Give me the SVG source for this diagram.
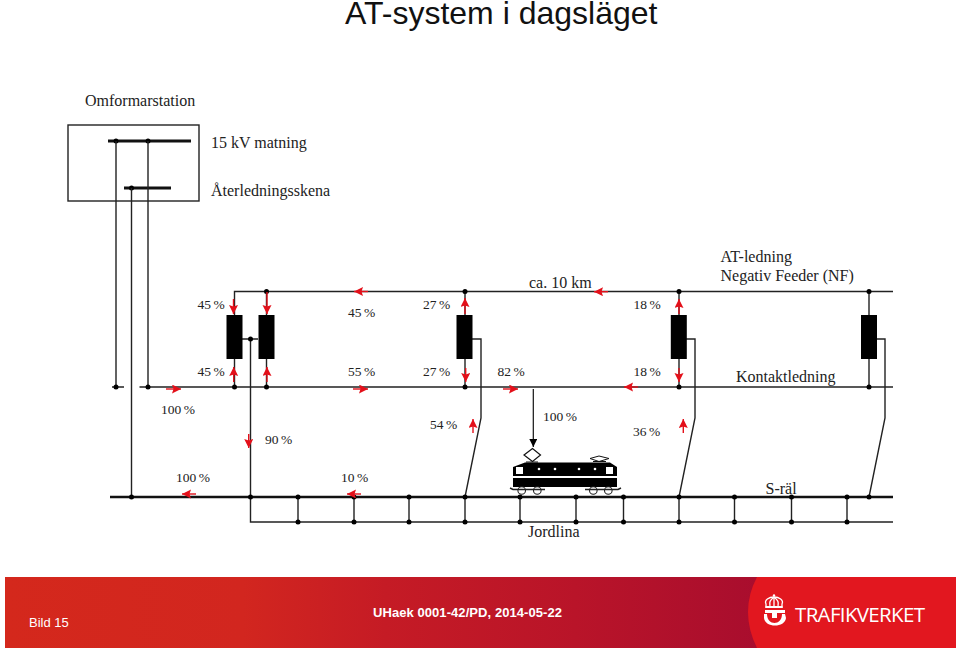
<svg xmlns="http://www.w3.org/2000/svg" width="960" height="650" viewBox="0 0 960 650">
<style>
.s{font-family:"Liberation Serif",serif;font-size:16px;fill:#222}
.p{font-family:"Liberation Serif",serif;font-size:13.5px;word-spacing:-1px;fill:#222}
.w{fill:none;stroke:#222;stroke-width:1.4}
.b{fill:none;stroke:#111;stroke-width:3}
.a{fill:none;stroke:#e3101a;stroke-width:1.4;marker-end:url(#ah)}
.d{fill:#000}
.t{fill:#000}
.f{font-family:"Liberation Sans",sans-serif;fill:#fff}
</style>
<defs>
<marker id="ah" markerUnits="userSpaceOnUse" markerWidth="11" markerHeight="11" refX="9" refY="4.500" orient="auto"><path d="M0 0L9 4.500L0 9L1.500 4.500Z" fill="#e3101a"/></marker>
<marker id="bh" markerUnits="userSpaceOnUse" markerWidth="10" markerHeight="10" refX="8" refY="4" orient="auto"><path d="M0 0L8 4L0 8Z" fill="#000"/></marker>
<linearGradient id="g" x1="0" x2="1" y1="0" y2="0"><stop offset="0" stop-color="#d4281c"/><stop offset=".25" stop-color="#d2261f"/><stop offset=".4" stop-color="#c51b25"/><stop offset=".6" stop-color="#b91429"/><stop offset=".8" stop-color="#a80d2e"/><stop offset="1" stop-color="#a80d2e"/></linearGradient>
</defs>
<rect width="960" height="650" fill="#fff"/>
<text x="345" y="24" font-family="'Liberation Sans',sans-serif" font-size="32" fill="#111">AT-system i dagsläget</text>

<g id="station">
<rect x="68" y="125" width="131" height="76" fill="none" stroke="#222" stroke-width="1.4"/>
<path class="b" d="M108 141H191M124 188H171"/>
<circle class="d" cx="116" cy="141" r="2.5"/><circle class="d" cx="148" cy="141" r="2.5"/><circle class="d" cx="131.500" cy="188" r="2.500"/>
<text class="s" x="85" y="106">Omformarstation</text>
<text class="s" x="211" y="148">15 kV matning</text>
<text class="s" x="211" y="196">Återledningsskena</text>
</g>

<g id="connectors">
<path class="w" d="M116 141V387M131.500 188V497M148 141V387"/>
<path class="w" d="M234.500 315V291.500H893M112 387H124M139.500 387H893"/>
<path class="w" d="M234.500 359V387M266.500 291.500V315M266.500 359V387M242 339H258M250.500 339V522H893"/>
<path class="w" d="M465 291.500V315M465 359V387M472 339H481V418L465 497"/>
<path class="w" d="M679 291.500V315M679 359V387M686 339H695V418L679 497"/>
<path class="w" d="M869 291.500V315M869 359V387M876 339H885V418L869 497"/>
<path class="w" d="M298 497V522M354 497V522M409 497V522M465 497V522M520 497V522M576 497V522M623.500 497V522M679 497V522M734.500 497V522M791.500 497V522M847 497V522"/>
<path fill="none" stroke="#111" stroke-width="2.600" d="M110 497H893"/>
<path fill="none" stroke="#111" stroke-width="1.200" marker-end="url(#bh)" d="M533.300 389V447"/>
<g id="dots">
<circle class="d" cx="266.500" cy="291.500" r="2.500"/><circle class="d" cx="465" cy="291.500" r="2.500"/><circle class="d" cx="679" cy="291.500" r="2.500"/><circle class="d" cx="869" cy="291.500" r="2.500"/>
<circle class="d" cx="116" cy="387" r="2.500"/><circle class="d" cx="148" cy="387" r="2.500"/><circle class="d" cx="234.500" cy="387" r="2.500"/><circle class="d" cx="266.500" cy="387" r="2.500"/><circle class="d" cx="465" cy="387" r="2.500"/><circle class="d" cx="679" cy="387" r="2.500"/><circle class="d" cx="869" cy="387" r="2.500"/>
<circle class="d" cx="250.500" cy="339" r="2.500"/>
<circle class="d" cx="131.500" cy="497" r="2.500"/><circle class="d" cx="250.500" cy="497" r="2.500"/><circle class="d" cx="298" cy="497" r="2.500"/><circle class="d" cx="354" cy="497" r="2.500"/><circle class="d" cx="409" cy="497" r="2.500"/><circle class="d" cx="465" cy="497" r="2.500"/><circle class="d" cx="520" cy="497" r="2.500"/><circle class="d" cx="576" cy="497" r="2.500"/><circle class="d" cx="623.500" cy="497" r="2.500"/><circle class="d" cx="679" cy="497" r="2.500"/><circle class="d" cx="734.500" cy="497" r="2.500"/><circle class="d" cx="791.500" cy="497" r="2.500"/><circle class="d" cx="847" cy="497" r="2.500"/><circle class="d" cx="869" cy="497" r="2.500"/>
<circle class="d" cx="298" cy="522" r="2.500"/><circle class="d" cx="354" cy="522" r="2.500"/><circle class="d" cx="409" cy="522" r="2.500"/><circle class="d" cx="465" cy="522" r="2.500"/><circle class="d" cx="520" cy="522" r="2.500"/><circle class="d" cx="576" cy="522" r="2.500"/><circle class="d" cx="623.500" cy="522" r="2.500"/><circle class="d" cx="679" cy="522" r="2.500"/><circle class="d" cx="734.500" cy="522" r="2.500"/><circle class="d" cx="791.500" cy="522" r="2.500"/><circle class="d" cx="847" cy="522" r="2.500"/>
</g>
</g>

<g id="at1"><rect class="t" x="226.500" y="315" width="16" height="44"/></g>
<g id="at2"><rect class="t" x="258.500" y="315" width="16" height="44"/></g>
<g id="at3"><rect class="t" x="456.500" y="315" width="16" height="44"/></g>
<g id="at4"><rect class="t" x="670.800" y="315" width="16" height="44"/></g>
<g id="at5"><rect class="t" x="861" y="315" width="16" height="44"/></g>

<g id="flows">
<path class="a" d="M233.500 299V314"/><path class="a" d="M267 292V314"/>
<path class="a" d="M233.700 382V367"/><path class="a" d="M267 382V367"/>
<path class="a" d="M166 389H181"/><path class="a" d="M353 389H368"/>
<path class="a" d="M368 291.500H354"/><path class="a" d="M248.700 434V448"/>
<path class="a" d="M196 494H182"/><path class="a" d="M361 494H347"/>
<path class="a" d="M465 314V298"/><path class="a" d="M465.700 368V382"/>
<path class="a" d="M503 389H518"/><path class="a" d="M638 387H624"/>
<path class="a" d="M608 291.700H594"/><path class="a" d="M679 314V299"/>
<path class="a" d="M679 368V382"/><path class="a" d="M473 433V419"/><path class="a" d="M683.300 433V419"/>
</g>

<g id="train">
<path d="M524 455L532.500 448.500L540.500 455L532.500 461.500Z" fill="#fff" stroke="#111" stroke-width="1.200"/>
<path d="M526 462H538M590 458.500L599 456L609 458.500L599 461.500ZM593 461.500H606" fill="none" stroke="#111" stroke-width="1"/>
<path class="t" d="M513 476V467L525 462.500H610L617 467V476Z"/>
<rect class="t" x="513" y="478" width="104" height="9"/>
<rect x="516" y="467" width="7" height="7" fill="#fff"/><rect x="606" y="467" width="7" height="7" fill="#fff"/>
<circle cx="539" cy="469" r="1.300" fill="#fff"/><circle cx="555" cy="469" r="1.300" fill="#fff"/><circle cx="579" cy="469" r="1.300" fill="#fff"/><circle cx="595" cy="469" r="1.300" fill="#fff"/>
<path d="M510 488L513 489.500H545M585 489.500H618L621 488" fill="none" stroke="#222" stroke-width="1.500"/>
<g fill="none" stroke="#222" stroke-width="1.100"><circle cx="521.700" cy="490.500" r="3.800"/><circle cx="537.300" cy="490.500" r="3.800"/><circle cx="593.300" cy="490.500" r="3.800"/><circle cx="608.300" cy="490.500" r="3.800"/></g>
</g>

<g id="labels">
<text class="s" x="529" y="288">ca. 10 km</text>
<text class="s" x="720.500" y="262">AT-ledning</text>
<text class="s" x="720.500" y="281">Negativ Feeder (NF)</text>
<text class="s" x="736" y="382">Kontaktledning</text>
<text class="s" x="765.500" y="494">S-räl</text>
<text class="s" x="528" y="537">Jordlina</text>
<text class="p" x="197.500" y="309">45 %</text><text class="p" x="348" y="317">45 %</text><text class="p" x="423" y="309">27 %</text><text class="p" x="633.500" y="309">18 %</text>
<text class="p" x="197.500" y="376">45 %</text><text class="p" x="348" y="376">55 %</text><text class="p" x="423" y="376">27 %</text><text class="p" x="497.500" y="376">82 %</text><text class="p" x="633.500" y="376">18 %</text>
<text class="p" x="161" y="414">100 %</text><text class="p" x="265" y="444">90 %</text><text class="p" x="430" y="429">54 %</text><text class="p" x="543" y="421">100 %</text><text class="p" x="633" y="436">36 %</text>
<text class="p" x="176" y="482">100 %</text><text class="p" x="341" y="482">10 %</text>
</g>

<g id="footer">
<rect x="5" y="577" width="951" height="71" fill="url(#g)"/>
<path d="M757 577H956V648H757Q748 630 748 612Q748 594 757 577Z" fill="#e2171f"/>
<text class="f" x="29" y="627" font-size="13">Bild 15</text>
<text class="f" x="373" y="617" font-size="13" font-weight="700" textLength="189">UHaek 0001-42/PD, 2014-05-22</text>
<g id="logo">
<g fill="none" stroke="#fff" stroke-width="1.300">
<path d="M766 608V604C764 600 769 597 774 597C779 597 784 600 782 604V608"/>
<path d="M770 606C769 602 771 599 774 597.500C777 599 779 602 778 606"/>
<path d="M774 597V607"/>
</g>
<rect x="765.500" y="606" width="17" height="2" fill="#fff"/>
<circle cx="774" cy="595.500" r="1.200" fill="#fff"/>
<path fill="#fff" d="M765 610H785V613H777V618H772V613H765Z"/>
<path fill="#fff" d="M764 614H767C767 626 782 626 782 614H785L786 618C785 628 765 628 764 618Z"/>
</g>
<text class="f" x="795" y="621.500" font-size="20.500" style="font-family:'Open Sans',sans-serif" textLength="130">TRAFIKVERKET</text>
</g>
</svg>
